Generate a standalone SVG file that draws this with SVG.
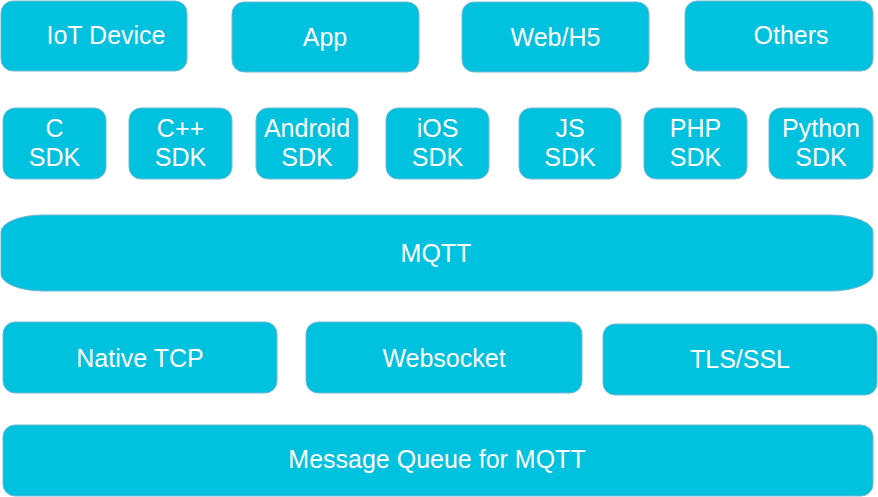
<svg xmlns="http://www.w3.org/2000/svg" width="878" height="497" viewBox="0 0 878 497">
<style>
.box{fill:#00c1de;stroke:#74b9d3;stroke-width:1}
.t{fill:#ffffff;font-family:"Liberation Sans",Arial,sans-serif;font-size:25px;text-anchor:middle}
</style>
<rect width="878" height="497" fill="#ffffff"/>
<g id="iot-device"><rect class="box" x="1" y="1" width="186" height="70" rx="12"/><text class="t" x="106" y="44">IoT Device</text></g>
<g id="app"><rect class="box" x="232" y="2" width="187" height="70" rx="12"/><text class="t" x="325" y="46">App</text></g>
<g id="web-h5"><rect class="box" x="462" y="2" width="187" height="70" rx="12"/><text class="t" x="555.5" y="46">Web/H5</text></g>
<g id="others"><rect class="box" x="685" y="1" width="188" height="70" rx="12"/><text class="t" x="791" y="44">Others</text></g>

<g id="c-sdk"><rect class="box" x="3" y="108" width="103" height="71" rx="12"/><text class="t" x="54.5" y="137">C</text><text class="t" x="54.5" y="166">SDK</text></g>
<g id="cpp-sdk"><rect class="box" x="129" y="108" width="103" height="71" rx="12"/><text class="t" x="180.5" y="137">C++</text><text class="t" x="180.5" y="166">SDK</text></g>
<g id="android-sdk"><rect class="box" x="256" y="108" width="102" height="71" rx="12"/><text class="t" x="307" y="137">Android</text><text class="t" x="307" y="166">SDK</text></g>
<g id="ios-sdk"><rect class="box" x="386" y="108" width="103" height="71" rx="12"/><text class="t" x="437.5" y="137">iOS</text><text class="t" x="437.5" y="166">SDK</text></g>
<g id="js-sdk"><rect class="box" x="519" y="108" width="102" height="71" rx="12"/><text class="t" x="570" y="137">JS</text><text class="t" x="570" y="166">SDK</text></g>
<g id="php-sdk"><rect class="box" x="644" y="108" width="103" height="71" rx="12"/><text class="t" x="695.5" y="137">PHP</text><text class="t" x="695.5" y="166">SDK</text></g>
<g id="python-sdk"><rect class="box" x="769" y="108" width="104" height="71" rx="12"/><text class="t" x="821" y="137">Python</text><text class="t" x="821" y="166">SDK</text></g>

<g id="mqtt"><path class="box" d="M 43 215 H 831 A 42 17 0 0 1 873 232 V 274 A 42 17 0 0 1 831 291 H 43 A 42 17 0 0 1 1 274 V 232 A 42 17 0 0 1 43 215 Z"/><text class="t" x="436" y="262">MQTT</text></g>

<g id="native-tcp"><rect class="box" x="3" y="322" width="274" height="71" rx="12"/><text class="t" x="140" y="367">Native TCP</text></g>
<g id="websocket"><rect class="box" x="306" y="322" width="276" height="71" rx="12"/><text class="t" x="444" y="367">Websocket</text></g>
<g id="tls-ssl"><rect class="box" x="603" y="324" width="274" height="71" rx="12"/><text class="t" x="740" y="368">TLS/SSL</text></g>

<g id="message-queue"><rect class="box" x="3" y="425" width="870" height="71" rx="12"/><text class="t" x="437" y="468">Message Queue for MQTT</text></g>

<g id="connectors"></g>
</svg>
